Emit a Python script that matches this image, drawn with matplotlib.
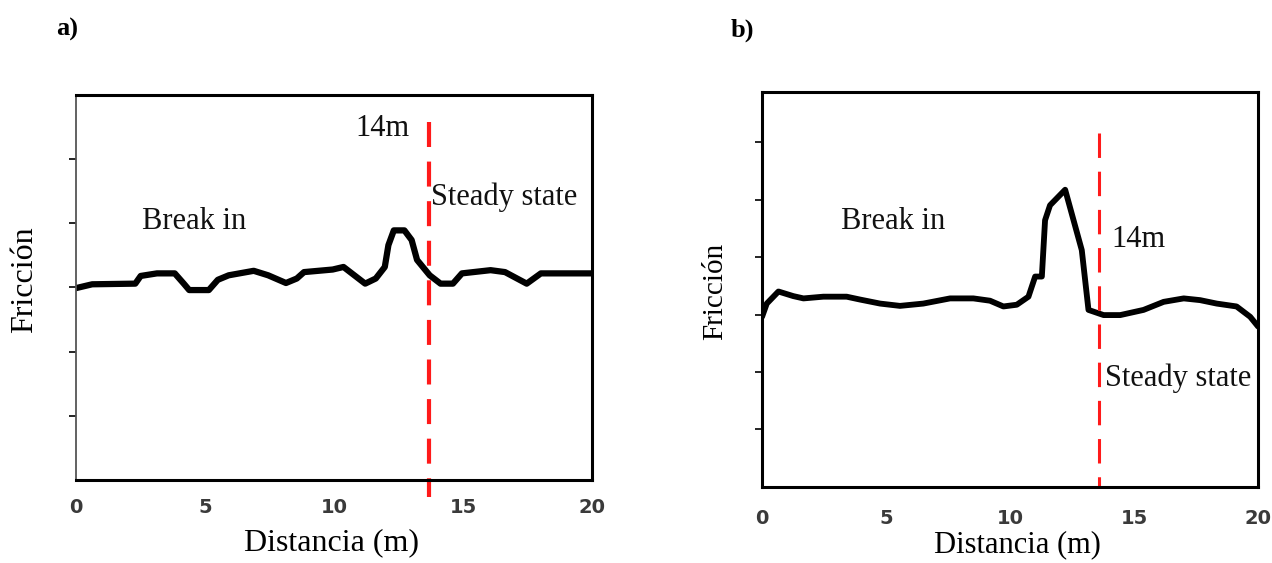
import matplotlib.pyplot as plt
import numpy as np

# panel a) - friction trace
dist_a = [0, 0.63, 2.30, 2.51, 3.14, 3.83, 4.18, 4.39, 5.15, 5.50, 5.92, 6.89, 7.45,
          8.14, 8.56, 8.84, 9.95, 10.37, 11.21, 11.62, 11.97, 12.11, 12.32, 12.73,
          13.01, 13.22, 13.71, 14.13, 14.61, 14.96, 16.07, 16.63, 17.47, 18.02, 19.9, 20]
fric_a = [2.99, 3.05, 3.06, 3.18, 3.22, 3.22, 3.06, 2.96, 2.96, 3.12, 3.19, 3.26, 3.19,
          3.07, 3.14, 3.24, 3.28, 3.32, 3.06, 3.14, 3.32, 3.66, 3.89, 3.89,
          3.74, 3.43, 3.19, 3.06, 3.06, 3.22, 3.27, 3.24, 3.06, 3.22, 3.22, 3.22]

# panel b) - friction trace
dist_b = [0, 0.19, 0.66, 1.26, 1.67, 2.47, 3.41, 3.95, 4.76, 5.56, 6.50, 7.58, 8.52,
          9.19, 9.73, 10.27, 10.74, 11.01, 11.28, 11.41, 11.61, 12.22, 12.89, 13.16,
          13.77, 14.44, 15.38, 16.19, 17.00, 17.66, 18.33, 19.13, 19.68, 20.0]
fric_b = [2.96, 3.19, 3.40, 3.32, 3.28, 3.31, 3.31, 3.26, 3.19, 3.15, 3.19, 3.28, 3.28,
          3.24, 3.14, 3.17, 3.31, 3.66, 3.66, 4.64, 4.90, 5.17, 4.12, 3.08,
          2.99, 2.99, 3.08, 3.22, 3.28, 3.25, 3.19, 3.14, 2.96, 2.79]

x_ticks = [0, 5, 10, 15, 20]
steady_x_a = 13.7
steady_x_b = 13.6

serif = ["Liberation Serif", "DejaVu Serif"]
txt = dict(family=serif, fontsize=22, color="#111111")

fig = plt.figure(figsize=(12.72, 5.63), dpi=100)
ax1 = fig.add_axes([0.0597, 0.1474, 0.4057, 0.6839])
ax2 = fig.add_axes([0.5991, 0.135, 0.39, 0.7016])

# ---- a)
ax1.plot(dist_a, fric_a, color="black", lw=4.5, solid_capstyle="round", solid_joinstyle="round")
ax1.plot([steady_x_a, steady_x_a], [5.58, -0.26], color="#ff1a1a", lw=3,
         dashes=(6, 3.5), clip_on=False)
ax1.set_xlim(0, 20)
ax1.set_ylim(0, 6)
ax1.set_yticks([1, 2, 3, 4, 5])
ax1.text(11.86, 5.48, "14m", ha="center", va="center", **txt)
ax1.text(13.75, 4.41, "Steady state", ha="left", va="center", **txt)
ax1.text(4.57, 4.03, "Break in", ha="center", va="center", **txt)
for s in ["top", "right", "bottom"]:
    ax1.spines[s].set_linewidth(2.2)
ax1.spines["left"].set_linewidth(1.3)
ax1.spines["left"].set_color("#555555")

# ---- b)
ax2.plot(dist_b, fric_b, color="black", lw=4.2, solid_capstyle="round", solid_joinstyle="round")
ax2.plot([steady_x_b, steady_x_b], [6.16, 0], color="#ff1a1a", lw=2.2,
         dashes=(8, 4.5), clip_on=False)
ax2.set_xlim(0, 20)
ax2.set_ylim(0, 6.87)
ax2.set_yticks([1, 2, 3, 4, 5, 6])
ax2.text(5.28, 4.61, "Break in", ha="center", va="center", **txt)
ax2.text(15.16, 4.30, "14m", ha="center", va="center", **txt)
ax2.text(13.83, 1.90, "Steady state", ha="left", va="center", **txt)
for s in ax2.spines.values():
    s.set_linewidth(2.2)

for ax, pad in [(ax1, 13), (ax2, 16)]:
    ax.set_xticks(x_ticks)
    ax.set_xticklabels([str(v) for v in x_ticks])
    ax.tick_params(axis="x", length=0, pad=pad, labelsize=14, labelcolor="#3a3a3a")
    for lab in ax.get_xticklabels():
        lab.set_fontweight("bold")
    ax.tick_params(axis="y", direction="out", length=5, width=1.2, labelleft=False)

# axis titles
fig.text(0.261, 0.036, "Distancia (m)", family=serif, fontsize=23, ha="center", va="center")
fig.text(0.0197, 0.503, "Fricción", family=serif, fontsize=23, rotation=90, ha="center", va="center")
fig.text(0.7995, 0.032, "Distancia (m)", family=serif, fontsize=22, ha="center", va="center")
fig.text(0.562, 0.482, "Fricción", family=serif, fontsize=21, rotation=90, ha="center", va="center")

fig.text(0.053, 0.947, "a)", family=serif, fontsize=19, fontweight="bold", ha="center", va="center")
fig.text(0.584, 0.947, "b)", family=serif, fontsize=19, fontweight="bold", ha="center", va="center")

plt.savefig("out.png", dpi=100)
